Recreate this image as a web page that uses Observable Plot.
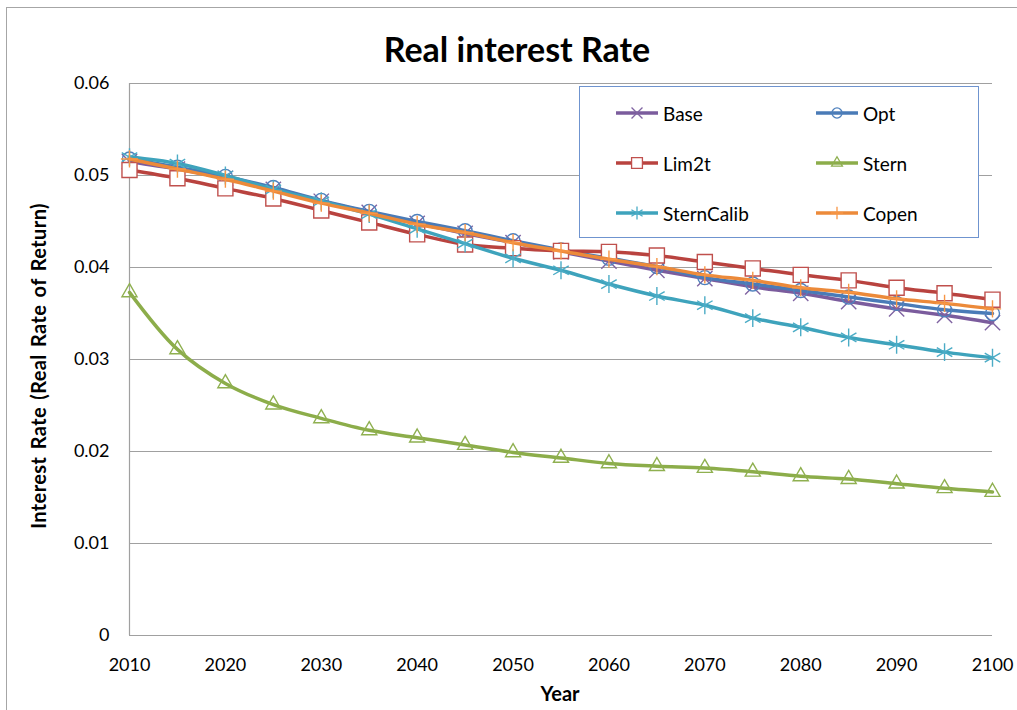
<!DOCTYPE html>
<html>
<head>
<meta charset="utf-8">
<script src="https://cdn.jsdelivr.net/npm/d3@7"></script>
<script src="https://cdn.jsdelivr.net/npm/@observablehq/plot@0.6"></script>
<style>
  body { margin: 0; background: #fff; font-family: Lato, "Noto Sans", sans-serif; }
  #wrap { position: relative; width: 1017px; height: 710px; overflow: hidden; }
  #border { position: absolute; left: 6px; top: 7px; width: 1100px; height: 800px; border: 1px solid #a6a6a6; box-sizing: border-box; }
  #title { position: absolute; left: 517px; top: 48px; transform: translate(-50%, -50%); white-space: nowrap; font-weight: bold; font-size: 34px; color: #000; }
  #ylab { position: absolute; left: 38px; top: 366px; transform: translate(-50%, -50%) rotate(-90deg); white-space: nowrap; font-weight: bold; font-size: 20px; letter-spacing: 0.4px; word-spacing: 2px; }
  #xlab { position: absolute; left: 560px; top: 693px; transform: translate(-50%, -50%); font-weight: bold; font-size: 20px; }
  #legend { position: absolute; left: 579px; top: 86px; width: 400px; height: 152px; border: 1px solid #6f94cf; background: #fff; box-sizing: border-box; }
  .item { position: absolute; display: flex; align-items: center; font-size: 19px; height: 22px; }
  .item svg { margin-right: 4px; }
  #chart { position: absolute; left: 0; top: 0; }
</style>
</head>
<body>
<div id="wrap">
  <div id="chart"></div>
  <div id="border"></div>
  <div id="title">Real interest Rate</div>
  <div id="ylab">Interest Rate (Real Rate of Return)</div>
  <div id="xlab">Year</div>
  <div id="legend"></div>
</div>
<script>
const years = [2010,2015,2020,2025,2030,2035,2040,2045,2050,2055,2060,2065,2070,2075,2080,2085,2090,2095,2100];
const base       = [0.0515,0.0507,0.0497,0.0485,0.0472,0.0460,0.0448,0.0437,0.0427,0.0417,0.0407,0.0397,0.0388,0.0379,0.0372,0.0363,0.0355,0.0348,0.0340];
const opt        = [0.0518,0.0509,0.0499,0.0487,0.0473,0.0461,0.0450,0.0440,0.0429,0.0419,0.0410,0.0401,0.0389,0.0382,0.0375,0.0368,0.0361,0.0354,0.0350];
const lim2t      = [0.0506,0.0497,0.0486,0.0475,0.0462,0.0449,0.0436,0.0425,0.0421,0.0418,0.0417,0.0413,0.0406,0.0399,0.0392,0.0386,0.0378,0.0372,0.0365];
const stern      = [0.0373,0.0311,0.0274,0.0251,0.0236,0.0223,0.0215,0.0207,0.0199,0.0193,0.0187,0.0184,0.0182,0.0178,0.0173,0.0170,0.0165,0.0160,0.0156];
const sternCalib = [0.0520,0.0513,0.0500,0.0485,0.0472,0.0458,0.0442,0.0426,0.0410,0.0397,0.0382,0.0369,0.0359,0.0345,0.0335,0.0324,0.0316,0.0308,0.0302];
const copen      = [0.0518,0.0507,0.0496,0.0483,0.0470,0.0459,0.0447,0.0438,0.0427,0.0418,0.0409,0.0401,0.0392,0.0386,0.0378,0.0373,0.0366,0.0361,0.0355];

const seriesNames = ["Base","Opt","Lim2t","Stern","SternCalib","Copen"];
const seriesValues = [base, opt, lim2t, stern, sternCalib, copen];
const lineColors   = ["#7b5c9d","#4a7bb7","#b9433f","#8cad4a","#3ea3bc","#ec8a3a"];
const markColors   = ["#8064a2","#4f81bd","#c0504d","#8fb050","#4bacc6","#f79646"];
const symbols      = ["times","circle","square","triangle","asterisk","plus"];
const radii        = [7,7,8.5,5.6,8.5,5.6];
const fills        = ["none","none","white","none","none","none"];
const yTicks = [0,0.01,0.02,0.03,0.04,0.05,0.06];
const xTicks = [2010,2020,2030,2040,2050,2060,2070,2080,2090,2100];

const marks = [
  Plot.ruleY(yTicks.slice(1), {stroke: "#a0a0a0", strokeWidth: 1}),
  Plot.ruleX([2010], {stroke: "#a0a0a0", strokeWidth: 1.2}),
  Plot.ruleY([0], {stroke: "#a0a0a0", strokeWidth: 1.2}),
  Plot.axisX({ticks: xTicks, tickSize: 0, tickPadding: 23, fontSize: 18, tickFormat: d => String(d), label: null}),
  Plot.axisY({ticks: yTicks, tickSize: 0, tickPadding: 20, fontSize: 18, tickFormat: d => d === 0 ? "0" : d.toFixed(2), label: null})
];
seriesNames.forEach((name, i) => {
  const data = years.map((yr, j) => ({year: yr, value: seriesValues[i][j]}));
  marks.push(Plot.line(data, {x: "year", y: "value", stroke: lineColors[i], strokeWidth: 3.5, curve: "catmull-rom"}));
  marks.push(Plot.dot(data, {x: "year", y: "value", symbol: symbols[i], r: radii[i], stroke: markColors[i], fill: fills[i], strokeWidth: 1.4}));
});

const chart = Plot.plot({
  width: 1017,
  height: 710,
  marginLeft: 129,
  marginRight: 25,
  marginTop: 83,
  marginBottom: 75,
  style: {fontFamily: "Lato, 'Noto Sans', sans-serif", color: "#000", background: "white", overflow: "visible"},
  x: {domain: [2010, 2100]},
  y: {domain: [0, 0.06]},
  marks
});
document.getElementById("chart").appendChild(chart);

// Legend
const legend = document.getElementById("legend");
const symMap = {times: d3.symbolTimes, circle: d3.symbolCircle, square: d3.symbolSquare, triangle: d3.symbolTriangle, asterisk: d3.symbolAsterisk, plus: d3.symbolPlus};
seriesNames.forEach((name, i) => {
  const col = i % 2, row = Math.floor(i / 2);
  const item = document.createElement("div");
  item.className = "item";
  item.style.left = (col === 0 ? 35 : 235) + "px";
  item.style.top = (15 + row * 50) + "px";
  const rr = radii[i] * 0.72;
  const path = d3.symbol(symMap[symbols[i]], Math.PI * rr * rr)();
  item.innerHTML = `<svg width="44" height="22"><line x1="1" x2="43" y1="11" y2="11" stroke="${lineColors[i]}" stroke-width="3.5"/><path d="${path}" transform="translate(22,11)" stroke="${markColors[i]}" fill="${fills[i]}" stroke-width="1.3"/></svg><span>${name}</span>`;
  legend.appendChild(item);
});
</script>
</body>
</html>
